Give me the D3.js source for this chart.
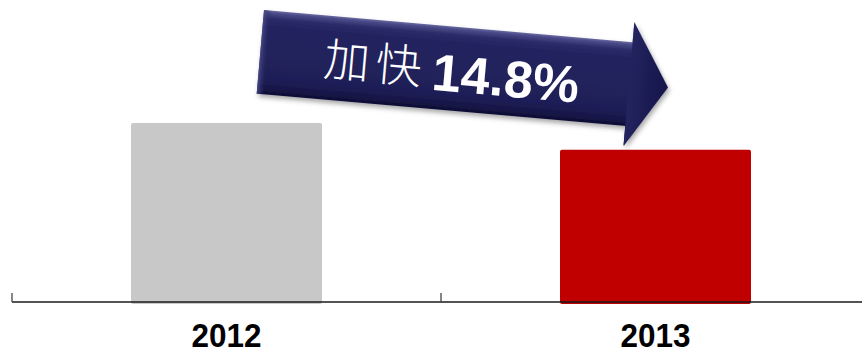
<!DOCTYPE html>
<html>
<head>
<meta charset="utf-8">
<script src="https://cdn.jsdelivr.net/npm/d3@7"></script>
<style>
  html, body { margin: 0; padding: 0; background: #fff; }
  svg { display: block; }
</style>
</head>
<body>
<svg id="chart" width="862" height="354"></svg>
<script>
// Index values: 2012 = 100, 2013 is 14.8% lower
const years = ["2012", "2013"];
const values = [100, 85.2];
const barColors = ["#c8c8c8", "#c00000"];
const arrowPrefix = "加快";
const arrowValue = "14.8%";

const W = 862, H = 354;
const svg = d3.select("#chart");
const defs = svg.append("defs");

const x = d3.scaleBand().domain(years).range([12, 870]).paddingInner(0).paddingOuter(0);
const y = d3.scaleLinear().domain([0, 100]).range([304, 123]);
const barW = 191;

// bars
svg.append("g").selectAll("rect")
  .data(years)
  .join("rect")
  .attr("x", d => x(d) + x.bandwidth() / 2 - barW / 2)
  .attr("y", (d, i) => y(values[i]))
  .attr("width", barW)
  .attr("height", (d, i) => y(0) - y(values[i]))
  .attr("rx", 2)
  .attr("fill", (d, i) => barColors[i]);

// axis line with band-boundary ticks
const axisY = 302;
svg.append("line")
  .attr("x1", 12).attr("x2", W).attr("y1", axisY).attr("y2", axisY)
  .attr("stroke", "#1a1a1a").attr("stroke-width", 1.3);
const bounds = years.map(d => x(d)).concat([x(years[years.length - 1]) + x.bandwidth()]);
svg.append("g").selectAll("line")
  .data(bounds)
  .join("line")
  .attr("x1", d => d).attr("x2", d => d)
  .attr("y1", axisY - 9).attr("y2", axisY)
  .attr("stroke", "#444").attr("stroke-width", 1.3);

// category labels
svg.append("g").selectAll("text")
  .data(years)
  .join("text")
  .attr("x", d => x(d) + x.bandwidth() / 2)
  .attr("y", 347)
  .attr("text-anchor", "middle")
  .attr("font-family", "'Liberation Sans', Arial, sans-serif")
  .attr("font-weight", "bold")
  .attr("font-size", 33)
  .attr("textLength", 70)
  .attr("lengthAdjust", "spacingAndGlyphs")
  .attr("fill", "#000")
  .text(d => d);

// arrow banner
const shadow = defs.append("filter").attr("id", "shadow")
  .attr("x", "-10%").attr("y", "-20%").attr("width", "130%").attr("height", "150%");
shadow.append("feDropShadow").attr("dx", 2).attr("dy", 3).attr("stdDeviation", 2.5)
  .attr("flood-color", "#000").attr("flood-opacity", 0.35);

const grad = defs.append("linearGradient").attr("id", "arrowFill")
  .attr("gradientUnits", "userSpaceOnUse")
  .attr("x1", 0).attr("y1", 0).attr("x2", 0).attr("y2", 84);
[[0, "#6a6aa2"], [0.03, "#4a4a88"], [0.1, "#2a2a68"], [0.2, "#23235f"],
 [0.8, "#1f1f58"], [0.92, "#17174a"], [1, "#0e0e34"]]
  .forEach(([o, c]) => grad.append("stop").attr("offset", o).attr("stop-color", c));

const leftGrad = defs.append("linearGradient").attr("id", "leftBevel")
  .attr("x1", 0).attr("y1", 0).attr("x2", 1).attr("y2", 0);
leftGrad.append("stop").attr("offset", 0).attr("stop-color", "#4c4c8a").attr("stop-opacity", 0.9);
leftGrad.append("stop").attr("offset", 1).attr("stop-color", "#23235f").attr("stop-opacity", 0);

const headGrad = defs.append("linearGradient").attr("id", "headFill")
  .attr("gradientUnits", "userSpaceOnUse")
  .attr("x1", 370).attr("y1", 0).attr("x2", 409).attr("y2", 0);
headGrad.append("stop").attr("offset", 0).attr("stop-color", "#23235f");
headGrad.append("stop").attr("offset", 1).attr("stop-color", "#15154a");

const arrow = svg.append("g").attr("transform", "translate(264,10) rotate(5)");
const shaftLen = 370, shaftH = 84, headOut = 20, tipX = 409;
const pts = [[0, 0], [shaftLen, 0], [shaftLen, -headOut], [tipX, shaftH / 2],
             [shaftLen, shaftH + headOut], [shaftLen, shaftH], [0, shaftH]];
arrow.append("path")
  .attr("d", d3.line()(pts) + "Z")
  .attr("fill", "url(#arrowFill)")
  .attr("filter", "url(#shadow)");
arrow.append("path")
  .attr("d", d3.line()([[shaftLen, -headOut], [tipX, shaftH / 2], [shaftLen, shaftH + headOut]]) + "Z")
  .attr("fill", "url(#headFill)");
arrow.append("rect")
  .attr("x", 0).attr("y", 0).attr("width", 8).attr("height", shaftH)
  .attr("fill", "url(#leftBevel)");

arrow.append("text")
  .attr("x", 64).attr("y", 60)
  .attr("font-family", "'Noto Sans CJK SC', sans-serif")
  .attr("font-weight", 300)
  .attr("font-size", 46)
  .attr("letter-spacing", 6)
  .attr("fill", "#fff")
  .text(arrowPrefix);
arrow.append("text")
  .attr("x", 173).attr("y", 65)
  .attr("font-family", "'Liberation Sans', Arial, sans-serif")
  .attr("font-weight", "bold")
  .attr("font-size", 52)
  .attr("fill", "#fff")
  .text(arrowValue);
</script>
</body>
</html>
